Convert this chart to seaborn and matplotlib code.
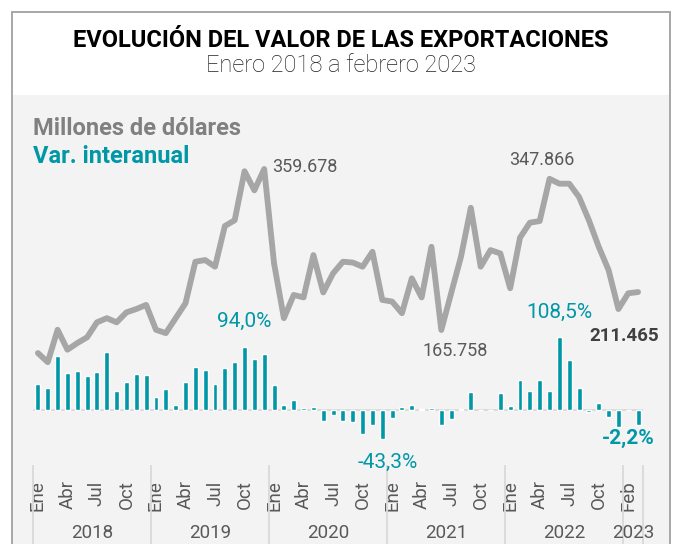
import numpy as np
import pandas as pd
import matplotlib
matplotlib.use("Agg")
import matplotlib.pyplot as plt
import matplotlib.transforms as mtransforms
from matplotlib.patches import Rectangle
import seaborn as sns

# ---------------- data ----------------
years = [2018] * 12 + [2019] * 12 + [2020] * 12 + [2021] * 12 + [2022] * 12 + [2023] * 2

# export value, millions of dollars
valor = [138, 127, 166, 142, 150, 157, 175, 180, 175, 187, 191, 196,
         166, 162, 180, 198, 248, 250, 242, 291, 298, 357, 334, 359.678,
         246, 180, 208, 205, 256, 211, 234, 248, 247, 242, 260, 202,
         200, 186, 228, 205, 266, 165.758, 210, 254, 313, 242, 262, 258,
         216, 277, 295, 297, 347.866, 342, 342, 326, 298, 266, 238, 191,
         210, 211.465]

# year-on-year change, %
var_pct = [39, 33, 81, 55, 58, 51, 56, 86, 28, 41, 54, 52,
           19, 31, 8, 41, 64, 59, 38, 62, 72, 94.0, 76, 84,
           37, 8, 15, 3.5, 4, -17, -7.5, -17, -18, -35, -23, -43.3,
           -12, 4.5, 7.5, 1, 3, -23, -14, 1, 27, 0.5, 0.5, 26,
           6, 44, 28, 45, 29, 108.5, 74, 33, -3, 10, -10, -26,
           -0.5, -23]

tick_pos = list(range(0, 62, 3))
tick_labels = ["Ene", "Abr", "Jul", "Oct"] * 5 + ["Feb"]

df = pd.DataFrame({"idx": np.arange(len(valor)), "year": years,
                   "valor": valor, "var": var_pct})

TEAL = "#0097a7"
GRAY_LINE = "#a6a6a6"
TXT = "#595959"

sns.set_style("white")
plt.rcParams["font.family"] = ["Roboto", "DejaVu Sans"]

W, H = 673, 544
fig = plt.figure(figsize=(W / 100, H / 100), dpi=100)
fig.patch.set_facecolor("white")

def fx(px):
    return px / W

def fy(py):
    return 1 - py / H

# grey panel + outer frame
fig.add_artist(Rectangle((fx(13), 0), fx(669) - fx(13), fy(95), transform=fig.transFigure,
                         facecolor="#f3f3f3", edgecolor="none", zorder=0))
fig.add_artist(Rectangle((fx(12), -0.05), fx(670) - fx(12), fy(12) + 0.05, transform=fig.transFigure,
                         fill=False, edgecolor="#a0a0a0", lw=1.3, zorder=1))

fig.text(fx(341), fy(47), "EVOLUCIÓN DEL VALOR DE LAS EXPORTACIONES", ha="center", va="baseline",
         fontsize=17, fontweight="bold", color="black")
fig.text(fx(341), fy(72), "Enero 2018 a febrero 2023", ha="center", va="baseline",
         fontsize=17, fontweight="light", color="#222222")
fig.text(fx(33), fy(135), "Millones de dólares", ha="left", va="baseline",
         fontsize=17, fontweight="bold", color="#808080")
fig.text(fx(33), fy(163), "Var. interanual", ha="left", va="baseline",
         fontsize=17, fontweight="bold", color=TEAL)

# ---------------- bars: var interanual ----------------
ax = fig.add_axes([fx(33), fy(465), fx(643) - fx(33), fy(96) - fy(465)])
ax.set_facecolor("none")
sns.barplot(data=df, x="idx", y="var", color=TEAL, saturation=1, width=0.5,
            errorbar=None, ax=ax, zorder=3)
ax.axhline(0, color="#d9d9d9", lw=1.3, zorder=2)
ax.set_xlim(-0.5, len(valor) - 0.5)
ax.set_ylim(-(465 - 410) / 0.672, (410 - 96) / 0.672)

# ---------------- line: value ----------------
ax2 = ax.twinx()
sns.lineplot(data=df, x="idx", y="valor", color=GRAY_LINE, lw=4.2, ax=ax2,
             solid_capstyle="round", solid_joinstyle="round")
ax2.set_xlim(-0.5, len(valor) - 0.5)
k = (359.678 - 165.758) / (330 - 169)
ax2.set_ylim(165.758 - (465 - 330) * k, 165.758 + (330 - 96) * k)

for a in (ax, ax2):
    for s in a.spines.values():
        s.set_visible(False)
    a.set_yticks([])
    a.set_ylabel("")
    a.set_xlabel("")

ax.set_xticks(tick_pos)
ax.set_xticklabels(tick_labels, rotation=90, fontsize=13.5, color=TXT)
ax.tick_params(axis="x", length=0, pad=11)
ax2.tick_params(axis="x", length=0)

# year group separators and labels
trans = mtransforms.blended_transform_factory(ax.transData, fig.transFigure)
bounds = [-0.5] + [i - 0.5 for i in range(1, len(years)) if years[i] != years[i - 1]] + [len(years) - 0.5]
ax.vlines(bounds, 0, fy(465), transform=trans, color="#d9d9d9", lw=1.3, clip_on=False)
for yr, grp in df.groupby("year"):
    ax.text(grp["idx"].mean(), fy(533), str(yr), transform=trans, ha="center", va="center",
            fontsize=13.5, color=TXT)

# ---------------- data labels ----------------
def lab(a, i, v, txt, dx, dy, color, size=13, bold=False):
    a.annotate(txt, xy=(i, v), xytext=(dx, dy), textcoords="offset pixels",
               ha="center", va="center", fontsize=size, color=color,
               fontweight="bold" if bold else "normal")

lab(ax2, 23, valor[23], "359.678", 41, 2, TXT)
lab(ax2, 52, valor[52], "347.866", -8, 19, TXT)
lab(ax2, 41, valor[41], "165.758", 14, -21, TXT)
lab(ax2, 61, valor[61], "211.465", -14, -44, "#404040", size=13.5, bold=True)
lab(ax, 21, var_pct[21], "94,0%", 0, 25, TEAL, size=15)
lab(ax, 53, var_pct[53], "108,5%", 0, 25, TEAL, size=15)
lab(ax, 35, var_pct[35], "-43,3%", 5, -23, TEAL, size=15)
lab(ax, 61, var_pct[61], "-2,2%", -10, -13, TEAL, size=15, bold=True)

fig.savefig("out.png", dpi=100)
